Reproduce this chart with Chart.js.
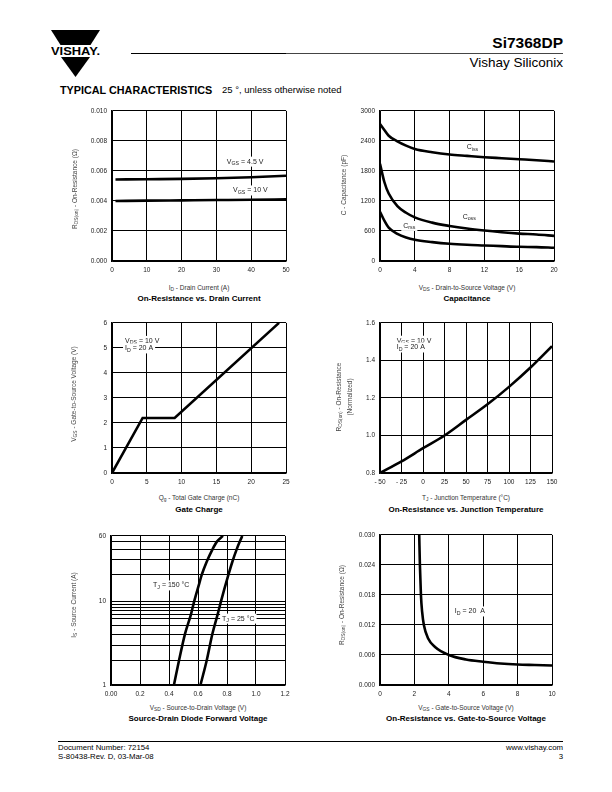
<!DOCTYPE html>
<html><head><meta charset="utf-8">
<script src="https://cdn.jsdelivr.net/npm/chart.js@4.4.1/dist/chart.umd.min.js"></script>
<style>
html,body{margin:0;padding:0;background:#fff;}
body{width:612px;height:792px;position:relative;overflow:hidden;font-family:"Liberation Sans",Arial,Helvetica,sans-serif;color:#000;}
.t{position:absolute;white-space:nowrap;line-height:1;}
.c{transform:translate(-50%,-50%);}
.r{transform:translateY(-50%);}
canvas{position:absolute;}
sub{font-size:75%;vertical-align:-0.3em;line-height:0;}
.yt{position:absolute;white-space:nowrap;line-height:1;transform:translate(-50%,-50%) rotate(-90deg);font-size:6.5px;color:#444;}
.xt{font-size:6.5px;color:#333;}
.bt{font-size:8px;font-weight:bold;}
</style></head><body>

<!-- header -->
<svg style="position:absolute;left:51px;top:30px" width="50" height="48" viewBox="0 0 50 48">
  <polygon points="0,0 49,0 39.5,15 9.5,15" fill="#000"/>
  <polygon points="10,27 39,27 24.5,47" fill="#000"/>
  <text x="0" y="25" font-family="Liberation Sans, Arial" font-weight="bold" font-size="11.5" textLength="49" lengthAdjust="spacingAndGlyphs">VISHAY.</text>
</svg>
<div style="position:absolute;left:131px;top:52.5px;width:155px;height:1.5px;background:#000"></div>
<div style="position:absolute;left:286px;top:53px;width:277px;height:1px;background:#444"></div>
<div class="t r" style="right:49px;top:43px;font-size:15.5px;font-weight:bold;">Si7368DP</div>
<div class="t r" style="right:49px;top:63px;font-size:13.5px;">Vishay Siliconix</div>
<div class="t r" style="left:60px;top:89.5px;font-size:10.8px;font-weight:bold;">TYPICAL CHARACTERISTICS</div>
<div class="t r" style="left:222px;top:89.5px;font-size:9.5px;">25 °, unless otherwise noted</div>

<canvas id="c1"></canvas><canvas id="c2"></canvas><canvas id="c3"></canvas>
<canvas id="c4"></canvas><canvas id="c5"></canvas><canvas id="c6"></canvas>

<!-- chart 1 titles -->
<div class="yt" style="left:75px;top:189px;">R<sub>DS(on)</sub> - On-Resistance (Ω)</div>
<div class="t c xt" style="left:199px;top:288px;">I<sub>D</sub> - Drain Current (A)</div>
<div class="t c bt" style="left:199px;top:299px;">On-Resistance vs. Drain Current</div>
<!-- chart 2 titles -->
<div class="yt" style="left:344px;top:185px;">C - Capacitance (pF)</div>
<div class="t c xt" style="left:467px;top:288px;">V<sub>DS</sub> - Drain-to-Source Voltage (V)</div>
<div class="t c bt" style="left:467px;top:299px;">Capacitance</div>
<!-- chart 3 titles -->
<div class="yt" style="left:74px;top:394px;">V<sub>GS</sub> - Gate-to-Source Voltage (V)</div>
<div class="t c xt" style="left:199px;top:498px;">Q<sub>g</sub> - Total Gate Charge (nC)</div>
<div class="t c bt" style="left:199px;top:510px;">Gate Charge</div>
<!-- chart 4 titles -->
<div class="yt" style="left:339px;top:397px;">R<sub>DS(on)</sub> - On-Resistance</div>
<div class="yt" style="left:350px;top:397px;">(Normalized)</div>
<div class="t c xt" style="left:466px;top:498px;">T<sub>J</sub> - Junction Temperature (°C)</div>
<div class="t c bt" style="left:466px;top:510px;">On-Resistance vs. Junction Temperature</div>
<!-- chart 5 titles -->
<div class="yt" style="left:74px;top:605px;">I<sub>S</sub> - Source Current (A)</div>
<div class="t c xt" style="left:198px;top:708px;">V<sub>SD</sub> - Source-to-Drain Voltage (V)</div>
<div class="t c bt" style="left:198px;top:719px;">Source-Drain Diode Forward Voltage</div>
<!-- chart 6 titles -->
<div class="yt" style="left:342px;top:605px;">R<sub>DS(on)</sub> - On-Resistance (Ω)</div>
<div class="t c xt" style="left:466px;top:708px;">V<sub>GS</sub> - Gate-to-Source Voltage (V)</div>
<div class="t c bt" style="left:466px;top:719px;">On-Resistance vs. Gate-to-Source Voltage</div>

<!-- footer -->
<div style="position:absolute;left:58px;top:741px;width:505px;height:1px;background:#000"></div>
<div class="t r" style="left:58px;top:748px;font-size:7.8px;">Document Number: 72154</div>
<div class="t r" style="left:58px;top:757px;font-size:7.8px;">S-80438-Rev. D, 03-Mar-08</div>
<div class="t r" style="right:49px;top:748px;font-size:7.8px;">www.vishay.com</div>
<div class="t r" style="right:49px;top:757px;font-size:7.8px;">3</div>

<script>
const F = "'Liberation Sans', Arial, Helvetica, sans-serif";

// ---- Chart 1: On-Resistance vs. Drain Current
const id1 = [1, 10, 20, 30, 40, 50];
const rdsVgs45 = [0.00543, 0.00545, 0.00547, 0.00551, 0.00558, 0.00568];
const rdsVgs10 = [0.00400, 0.00402, 0.00404, 0.00406, 0.00408, 0.00411];
const xTicks1 = ['0', '10', '20', '30', '40', '50'];
const yTicks1 = ['0.000', '0.002', '0.004', '0.006', '0.008', '0.010'];

// ---- Chart 2: Capacitance
const vds2 = [0, 0.5, 1, 2, 3, 4, 6, 8, 10, 12, 14, 16, 18, 20];
const ciss = [2736, 2620, 2504, 2392, 2306, 2240, 2174, 2128, 2101, 2075, 2055, 2035, 2015, 1989];
const coss = [1943, 1579, 1348, 1097, 965, 872, 767, 700, 648, 608, 575, 548, 529, 502];
const crss = [985, 806, 667, 542, 469, 423, 377, 344, 324, 311, 297, 284, 278, 264];
const xTicks2 = ['0', '4', '8', '12', '16', '20'];
const yTicks2 = ['0', '600', '1200', '1800', '2400', '3000'];

// ---- Chart 3: Gate Charge
const qg3 = [0, 4.4, 9.0, 24.0];
const vgs3 = [0, 2.2, 2.2, 6.0];
const xTicks3 = ['0', '5', '10', '15', '20', '25'];
const yTicks3 = ['0', '1', '2', '3', '4', '5', '6'];

// ---- Chart 4: On-Resistance vs. Junction Temperature
const tj4 = [-50, -25, 0, 25, 50, 75, 100, 125, 150];
const rn4 = [0.800, 0.862, 0.932, 1.000, 1.083, 1.166, 1.259, 1.362, 1.476];
const xTicks4 = ['- 50', '- 25', '0', '25', '50', '75', '100', '125', '150'];
const yTicks4 = ['0.8', '1.0', '1.2', '1.4', '1.6'];

// ---- Chart 5: Source-Drain Diode Forward Voltage
const vsd150 = [0.434, 0.469, 0.510, 0.552, 0.574, 0.609, 0.625, 0.660, 0.699, 0.729, 0.772];
const is150  = [1, 1.96, 4.05, 7.0, 10, 16.3, 20.4, 29.5, 41.2, 50.9, 60];
const vsd25  = [0.617, 0.660, 0.699, 0.736, 0.759, 0.809, 0.837, 0.866, 0.905];
const is25   = [1, 1.96, 4.05, 7.0, 10, 20.4, 29.5, 41.2, 60];
const xTicks5 = ['0.00', '0.2', '0.4', '0.6', '0.8', '1.0', '1.2'];
const yGrid5 = [1, 1.96, 2.98, 4.05, 5.08, 6.15, 7.0, 7.66, 8.4, 9.2, 10, 20.8, 31.7, 41.2, 50.9, 60];
const yTickVals5 = [1, 10, 60];
const yTickLabels5 = ['1', '10', '60'];

// ---- Chart 6: On-Resistance vs. Gate-to-Source Voltage
const vgs6 = [2.28, 2.32, 2.38, 2.45, 2.55, 2.8, 3.2, 4, 5, 6, 7, 8, 9, 10];
const rds6 = [0.030, 0.024, 0.018, 0.0146, 0.012, 0.0093, 0.0076, 0.0060, 0.0051, 0.00465, 0.0043, 0.0041, 0.0040, 0.0039];
const xTicks6 = ['0', '2', '4', '6', '8', '10'];
const yTicks6 = ['0.000', '0.006', '0.012', '0.018', '0.024', '0.030'];

function pts(xs, ys) { return xs.map((x, i) => ({ x: x, y: ys[i] })); }

function parseNote(s) {
  const out = []; const re = /_\{([^}]*)\}/g; let last = 0, m;
  while ((m = re.exec(s))) {
    if (m.index > last) out.push({ t: s.slice(last, m.index), sub: false });
    out.push({ t: m[1], sub: true }); last = re.lastIndex;
  }
  if (last < s.length) out.push({ t: s.slice(last), sub: false });
  return out;
}

const notePlugin = {
  id: 'notes',
  beforeDatasetsDraw(chart, args, opts) {
    const items = (opts && opts.items) || [];
    const ctx = chart.ctx, xs = chart.scales.x, ys = chart.scales.y;
    const size = opts.size || 7;
    ctx.save();
    items.forEach(it => {
      const px = xs.getPixelForValue(it.x), py = ys.getPixelForValue(it.y);
      const segs = parseNote(it.text);
      let w = 0;
      segs.forEach(s => { ctx.font = (s.sub ? size * 0.75 : size) + 'px ' + F; s.w = ctx.measureText(s.t).width; w += s.w; });
      ctx.fillStyle = '#fff';
      ctx.fillRect(px - 2, py - 5, w + 4, 10);
      let x = px;
      ctx.textBaseline = 'middle';
      ctx.fillStyle = '#222';
      segs.forEach(s => {
        ctx.font = (s.sub ? size * 0.75 : size) + 'px ' + F;
        ctx.fillText(s.t, x, py + (s.sub ? 2 : 0));
        x += s.w;
      });
    });
    ctx.restore();
  }
};

const PADL = 45, PADR = 12, PADT = 8, XH = 16;

function axisBase(labels) {
  return {
    grid: { color: '#000', lineWidth: 1, drawTicks: false },
    border: { color: '#000', width: 1.5 },
    ticks: { autoSkip: false, maxRotation: 0, padding: 5, color: '#222',
      font: { family: F, size: 6.5 }, callback: (v, i) => labels[i] }
  };
}
function xLin(min, max, step, labels) {
  const a = axisBase(labels);
  a.type = 'linear'; a.min = min; a.max = max; a.ticks.stepSize = step;
  a.afterFit = s => { s.height = XH; };
  return a;
}
function yLin(min, max, step, labels) {
  const a = axisBase(labels);
  a.type = 'linear'; a.min = min; a.max = max; a.ticks.stepSize = step;
  a.afterFit = s => { s.width = PADL; };
  return a;
}
function line(data, smooth) {
  return { data: data, borderColor: '#000', borderWidth: 2.6, pointRadius: 0, showLine: true,
    fill: false, cubicInterpolationMode: smooth ? 'monotone' : 'default', tension: 0 };
}

function makeChart(id, rect, datasets, xAxis, yAxis, notes) {
  const cv = document.getElementById(id);
  const w = rect.W + PADL + PADR, h = rect.H + PADT + XH;
  cv.width = w; cv.height = h;
  cv.style.left = (rect.L - PADL) + 'px'; cv.style.top = (rect.T - PADT) + 'px';
  cv.style.width = w + 'px'; cv.style.height = h + 'px';
  return new Chart(cv, {
    type: 'scatter',
    data: { datasets: datasets },
    options: {
      responsive: false, animation: false, devicePixelRatio: 1, events: [],
      layout: { padding: { left: 0, right: PADR, top: PADT, bottom: 0 } },
      plugins: { legend: { display: false }, tooltip: { enabled: false }, notes: { items: notes, size: 7 } },
      scales: { x: xAxis, y: yAxis }
    },
    plugins: [notePlugin]
  });
}

makeChart('c1', { L: 112, T: 110, W: 174, H: 151 },
  [line(pts(id1, rdsVgs45), true), line(pts(id1, rdsVgs10), true)],
  xLin(0, 50, 10, xTicks1), yLin(0, 0.010, 0.002, yTicks1),
  [{ x: 33, y: 0.00662, text: 'V_{GS} = 4.5 V' }, { x: 34.8, y: 0.0047, text: 'V_{GS} = 10 V' }]);

makeChart('c2', { L: 380, T: 110, W: 174, H: 151 },
  [line(pts(vds2, ciss), true), line(pts(vds2, coss), true), line(pts(vds2, crss), true)],
  xLin(0, 20, 4, xTicks2), yLin(0, 3000, 600, yTicks2),
  [{ x: 9.97, y: 2271, text: 'C_{iss}' }, { x: 9.5, y: 880, text: 'C_{oss}' }, { x: 2.68, y: 701, text: 'C_{rss}' }]);

makeChart('c3', { L: 112, T: 322, W: 174, H: 151 },
  [line(pts(qg3, vgs3), false)],
  xLin(0, 25, 5, xTicks3), yLin(0, 6, 1, yTicks3),
  [{ x: 1.87, y: 5.28, text: 'V_{DS} = 10 V' }, { x: 1.87, y: 4.98, text: 'I_{D} = 20 A' }]);

makeChart('c4', { L: 380, T: 322, W: 172, H: 151 },
  [line(pts(tj4, rn4), true)],
  xLin(-50, 150, 25, xTicks4), yLin(0.8, 1.6, 0.2, yTicks4),
  [{ x: -30.6, y: 1.505, text: 'V_{GS} = 10 V' }, { x: -30.6, y: 1.469, text: 'I_{D} = 20 A' }]);

const y5 = axisBase(yTickLabels5);
y5.type = 'logarithmic'; y5.min = 1; y5.max = 60;
y5.afterBuildTicks = s => { s.ticks = yGrid5.map(v => ({ value: v })); };
y5.ticks.callback = (v) => { const k = yTickVals5.indexOf(v); return k >= 0 ? yTickLabels5[k] : ''; };
y5.afterFit = s => { s.width = PADL; };
makeChart('c5', { L: 111, T: 535, W: 174, H: 150 },
  [line(pts(vsd150, is150), true), line(pts(vsd25, is25), true)],
  xLin(0, 1.2, 0.2, xTicks5), y5,
  [{ x: 0.29, y: 15.4, text: 'T_{J} = 150 °C' }, { x: 0.766, y: 6.19, text: 'T_{J} = 25 °C' }]);

makeChart('c6', { L: 380, T: 534, W: 172, H: 151 },
  [line(pts(vgs6, rds6), true)],
  xLin(0, 10, 2, xTicks6), yLin(0, 0.030, 0.006, yTicks6),
  [{ x: 4.35, y: 0.0147, text: 'I_{D} = 20  A' }]);
</script>
</body></html>
